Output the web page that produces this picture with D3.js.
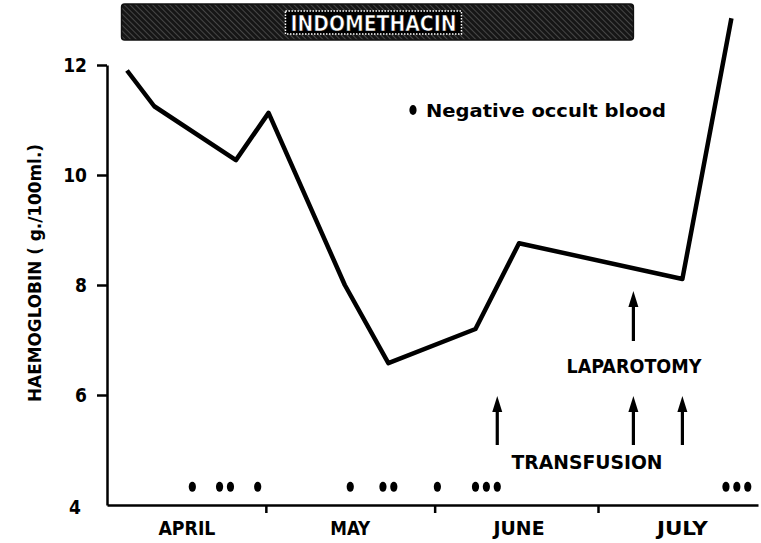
<!DOCTYPE html>
<html>
<head>
<meta charset="utf-8">
<script src="https://cdn.jsdelivr.net/npm/d3@7"></script>
<style>
  html, body { margin: 0; padding: 0; background: #fff; }
  svg { display: block; }
  text { font-family: "DejaVu Sans Condensed", "DejaVu Sans", sans-serif; font-weight: bold; fill: #000; }
</style>
</head>
<body>
<svg id="chart" width="761" height="543"></svg>
<script>
// ---------- data ----------
const HB_DATES = ["1970-04-05","1970-04-10","1970-04-25","1970-05-01","1970-05-15","1970-05-23","1970-06-08","1970-06-16","1970-07-16","1970-07-25"];
const HB_VALUES = [11.9, 11.25, 10.27, 11.13, 8.0, 6.58, 7.2, 8.76, 8.11, 12.85];
const OCCULT_DATES = ["1970-04-17","1970-04-22","1970-04-24","1970-04-29","1970-05-16","1970-05-22","1970-05-24","1970-06-01","1970-06-08","1970-06-10","1970-06-12","1970-07-24","1970-07-26","1970-07-28"];
const TRANSFUSION_DATES = ["1970-06-12","1970-07-07","1970-07-16"];
const LAPAROTOMY_DATES = ["1970-07-07"];
const INDOMETHACIN_PERIOD = ["1970-04-04","1970-07-07"];
const Y_TICKS = [4, 6, 8, 10, 12];
const MONTH_BOUNDARIES = ["1970-05-01","1970-06-01","1970-07-01"];
const MONTH_LABEL_DATES = ["1970-04-16","1970-05-16","1970-06-16","1970-07-16"];
const MONTH_LABELS = ["APRIL","MAY","JUNE","JULY"];

// ---------- helpers ----------
const noon = s => { const [yy,m,d] = s.split("-").map(Number); return new Date(yy, m-1, d, 12); };
const midnight = s => { const [yy,m,d] = s.split("-").map(Number); return new Date(yy, m-1, d, 0); };

const svg = d3.select("#chart");
const plotL = 107, plotR = 758, plotT = 65, plotB = 505;

// calibrate time scale so month boundaries land where the original has them
const s0 = d3.scaleTime().domain([new Date(1970,3,1), new Date(1970,6,1)]).range([102.5, 598]);
const x = d3.scaleTime().domain([s0.invert(plotL), s0.invert(plotR)]).range([plotL, plotR]);
const y = d3.scaleLinear().domain([4, 12]).range([plotB, plotT]);

// ---------- hatch pattern ----------
const defs = svg.append("defs");
const pat = defs.append("pattern").attr("id","hatch").attr("patternUnits","userSpaceOnUse")
  .attr("width",4).attr("height",4).attr("patternTransform","rotate(-45)");
pat.append("rect").attr("width",4).attr("height",4).attr("fill","#161616");
pat.append("line").attr("x1",0).attr("y1",0).attr("x2",0).attr("y2",4).attr("stroke","#808080").attr("stroke-width",0.9);

// ---------- Indomethacin bar ----------
const bx0 = x(noon(INDOMETHACIN_PERIOD[0])), bx1 = x(noon(INDOMETHACIN_PERIOD[1]));
svg.append("rect").attr("x", bx0).attr("y", 4).attr("width", bx1 - bx0).attr("height", 36)
  .attr("rx", 3).attr("fill", "url(#hatch)").attr("stroke","#111").attr("stroke-width",1.5);
const bc = (bx0 + bx1) / 2 - 4;
svg.append("rect").attr("x", bc - 88).attr("y", 11).attr("width", 176).attr("height", 23)
  .attr("fill","#000").attr("stroke","#fff").attr("stroke-width",1.5).attr("stroke-dasharray","1.5,1.5");
svg.append("text").attr("x", bc).attr("y", 31).attr("text-anchor","middle")
  .attr("font-size", 22).attr("textLength", 166).attr("lengthAdjust","spacingAndGlyphs")
  .style("fill","#fff").style("stroke","#000").style("stroke-width",0.6).text("INDOMETHACIN");

// ---------- axes ----------
const yAxis = svg.append("g").attr("transform", `translate(${plotL},0)`)
  .call(d3.axisLeft(y).tickValues(Y_TICKS).tickSize(10).tickSizeOuter(0).tickPadding(10).tickFormat(d3.format("d")));
yAxis.select(".domain").attr("stroke","#000").attr("stroke-width",2.5);
yAxis.selectAll(".tick line").attr("stroke","#000").attr("stroke-width",2.5);
yAxis.selectAll(".tick").filter(d => d === 4).select("line").remove();
yAxis.selectAll(".tick text").attr("font-size", 19).style("font-family",'"DejaVu Sans Condensed","DejaVu Sans",sans-serif').style("font-weight","bold");
yAxis.selectAll(".tick").filter(d => d === 4).select("text").attr("dy", "0.45em").attr("x", -26);

const xAxis = svg.append("g").attr("transform", `translate(0,${plotB})`)
  .call(d3.axisBottom(x).tickValues(MONTH_BOUNDARIES.map(midnight)).tickSize(8).tickSizeOuter(0).tickFormat(""));
xAxis.select(".domain").attr("stroke","#000").attr("stroke-width",2.5);
xAxis.selectAll(".tick line").attr("stroke","#000").attr("stroke-width",2.5);

svg.append("g").selectAll("text").data(MONTH_LABELS).join("text")
  .attr("x", (d,i) => x(noon(MONTH_LABEL_DATES[i])))
  .attr("y", 535).attr("text-anchor","middle").attr("font-size", 19)
  .attr("textLength", (d,i) => [57,40,51,51][i]).attr("lengthAdjust","spacingAndGlyphs")
  .text(d => d);

// y axis title
svg.append("text").attr("transform", `translate(41,273) rotate(-90)`)
  .attr("text-anchor","middle").attr("font-size", 17)
  .attr("textLength", 258).attr("lengthAdjust","spacingAndGlyphs")
  .text("HAEMOGLOBIN ( g./100ml.)");

// ---------- line ----------
const hb = HB_DATES.map((d,i) => ({date: noon(d), v: HB_VALUES[i]}));
svg.append("path").datum(hb)
  .attr("d", d3.line().x(d => x(d.date)).y(d => y(d.v)))
  .attr("fill","none").attr("stroke","#000").attr("stroke-width",4.5).attr("stroke-linejoin","round");

// ---------- occult blood dots ----------
svg.append("g").selectAll("ellipse").data(OCCULT_DATES).join("ellipse")
  .attr("cx", d => x(noon(d))).attr("cy", y(4.33)).attr("rx", 3.6).attr("ry", 5).attr("fill","#000");

// legend
svg.append("ellipse").attr("cx", 413).attr("cy", 110).attr("rx", 3.6).attr("ry", 5).attr("fill","#000");
svg.append("text").attr("x", 426).attr("y", 117).attr("font-size", 18)
  .attr("textLength", 240).attr("lengthAdjust","spacingAndGlyphs").text("Negative occult blood");

// ---------- arrows ----------
function arrow(cx, tipY, len) {
  const g = svg.append("g");
  g.append("line").attr("x1", cx).attr("x2", cx).attr("y1", tipY + 10).attr("y2", tipY + len)
    .attr("stroke","#000").attr("stroke-width",3.2);
  g.append("path").attr("d", `M${cx},${tipY} L${cx-5},${tipY+16} L${cx+5},${tipY+16} Z`).attr("fill","#000");
}
TRANSFUSION_DATES.forEach(d => arrow(x(noon(d)), 396, 49));
LAPAROTOMY_DATES.forEach(d => arrow(x(noon(d)), 291, 50));

svg.append("text").attr("x", 587).attr("y", 469).attr("text-anchor","middle").attr("font-size", 20)
  .attr("textLength", 151).attr("lengthAdjust","spacingAndGlyphs").text("TRANSFUSION");
svg.append("text").attr("x", 634).attr("y", 373).attr("text-anchor","middle").attr("font-size", 20)
  .attr("textLength", 135).attr("lengthAdjust","spacingAndGlyphs").text("LAPAROTOMY");
</script>
</body>
</html>
